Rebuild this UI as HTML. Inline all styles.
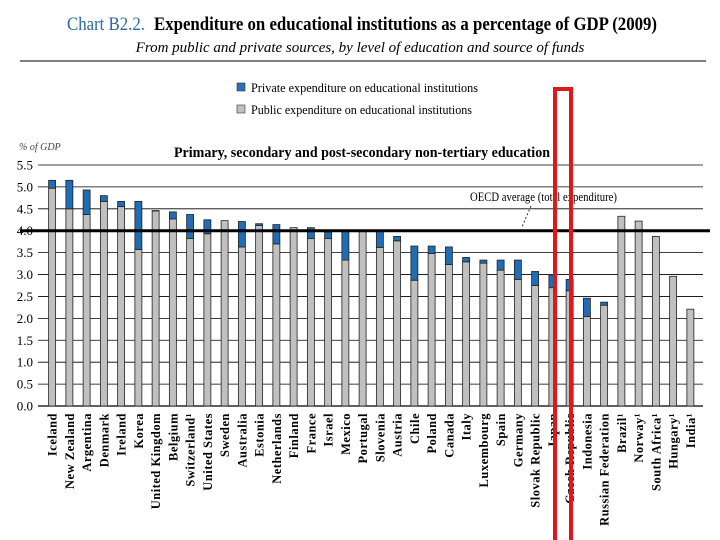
<!DOCTYPE html>
<html><head><meta charset="utf-8"><style>
body{margin:0;background:#fff;}
svg{display:block;font-family:"Liberation Serif",serif;}
</style></head><body>
<svg id="chart" width="720" height="540" viewBox="0 0 720 540" xmlns="http://www.w3.org/2000/svg">
<text x="67" y="30" font-size="19" fill="#2a6aa0" textLength="78" lengthAdjust="spacingAndGlyphs">Chart B2.2.</text>
<text x="154" y="30" font-size="19" font-weight="bold" textLength="503" lengthAdjust="spacingAndGlyphs">Expenditure on educational institutions as a percentage of GDP (2009)</text>
<text x="360" y="52" text-anchor="middle" font-size="15" font-style="italic">From public and private sources, by level of education and source of funds</text>
<line x1="20" y1="61" x2="706" y2="61" stroke="#000" stroke-width="1"/>
<rect x="237" y="83" width="8" height="8" fill="#2a72b8" stroke="#333" stroke-width="0.6"/>
<text x="251" y="92" font-size="12.5" textLength="227" lengthAdjust="spacingAndGlyphs">Private expenditure on educational institutions</text>
<rect x="237" y="105" width="8" height="8" fill="#c0c0c0" stroke="#333" stroke-width="0.6"/>
<text x="251" y="114" font-size="12.5" textLength="221" lengthAdjust="spacingAndGlyphs">Public expenditure on educational institutions</text>
<text x="19" y="150" font-size="10" font-style="italic" fill="#444">% of GDP</text>
<text x="174" y="157" font-size="14.5" font-weight="bold" textLength="376" lengthAdjust="spacingAndGlyphs">Primary, secondary and post-secondary non-tertiary education</text>
<g id="grid"></g>
<g id="bars"></g>
<g id="labels"></g>
<line id="avg" x1="20" x2="710" stroke="#000" stroke-width="3"/>
<text x="470" y="201" font-size="12.5" textLength="147" lengthAdjust="spacingAndGlyphs">OECD average (total expenditure)</text>
<line x1="531" y1="206" x2="522" y2="227" stroke="#000" stroke-width="0.8" stroke-dasharray="2,2"/>
<rect x="555" y="89" width="16" height="460" fill="none" stroke="#e0181c" stroke-width="4"/>
</svg>
<script>
const countries=["Iceland","New Zealand","Argentina","Denmark","Ireland","Korea","United Kingdom","Belgium","Switzerland¹","United States","Sweden","Australia","Estonia","Netherlands","Finland","France","Israel","Mexico","Portugal","Slovenia","Austria","Chile","Poland","Canada","Italy","Luxembourg","Spain","Germany","Slovak Republic","Japan","Czech Republic","Indonesia","Russian Federation","Brazil¹","Norway¹","South Africa¹","Hungary¹","India¹"];
const publicVals=[4.97,4.5,4.37,4.67,4.55,3.57,4.45,4.27,3.82,3.93,4.23,3.63,4.12,3.7,4.07,3.82,3.82,3.33,4.0,3.62,3.77,2.87,3.48,3.23,3.29,3.26,3.10,2.89,2.75,2.70,2.63,2.04,2.30,4.33,4.22,3.87,2.96,2.21];
const totalVals=[5.15,5.15,4.93,4.8,4.67,4.67,4.46,4.43,4.37,4.25,4.23,4.21,4.16,4.14,4.07,4.07,3.97,3.99,4.0,3.98,3.87,3.65,3.65,3.63,3.39,3.33,3.33,3.33,3.07,2.99,2.89,2.46,2.37,4.33,4.22,3.87,2.96,2.21];
const yTicks=[0,0.5,1,1.5,2,2.5,3,3.5,4,4.5,5,5.5];
const oecdAvg=4.0;
const NS="http://www.w3.org/2000/svg";
const y0=406,y1=165,yMax=5.5,x0=43.5,step=17.25;
function y(v){return y0-(v/yMax)*(y0-y1);}
function x(i){return x0+(i+0.5)*step;}
const grid=document.getElementById('grid');
yTicks.forEach(t=>{
 const l=document.createElementNS(NS,'line');
 
 
 l.setAttribute('x1',38);l.setAttribute('x2',703);l.setAttribute('y1',y(t));l.setAttribute('y2',y(t));
 l.setAttribute('stroke','#000');l.setAttribute('stroke-width',t===0?1.2:0.8);
 grid.appendChild(l);
 const tx=document.createElementNS(NS,'text');
 
 
 tx.setAttribute('x',33);tx.setAttribute('y',y(t)+4.5);tx.setAttribute('text-anchor','end');tx.setAttribute('font-size','13');
 tx.textContent=t.toFixed(1);grid.appendChild(tx);
});
const bars=document.getElementById('bars'),labels=document.getElementById('labels');
countries.forEach((c,i)=>{
 const cx=x(i),w=7;
 const p=document.createElementNS(NS,'rect');
 
 
 p.setAttribute('x',cx-w/2);p.setAttribute('y',y(publicVals[i]));p.setAttribute('width',w);p.setAttribute('height',y0-y(publicVals[i]));
 p.setAttribute('fill','#c0c0c0');p.setAttribute('stroke','#222');p.setAttribute('stroke-width','0.8');
 bars.appendChild(p);
 if(totalVals[i]>publicVals[i]+0.005){
  const q=document.createElementNS(NS,'rect');
  
  
  q.setAttribute('x',cx-w/2);q.setAttribute('y',y(totalVals[i]));q.setAttribute('width',w);q.setAttribute('height',y(publicVals[i])-y(totalVals[i]));
  q.setAttribute('fill','#1f6db3');q.setAttribute('stroke','#222');q.setAttribute('stroke-width','0.8');
  bars.appendChild(q);
 }
 const t=document.createElementNS(NS,'text');
 
 
 t.setAttribute('transform','translate('+(cx+4.5)+',413) rotate(-90)');
 t.setAttribute('text-anchor','end');t.setAttribute('font-size','12.5');t.setAttribute('font-weight','bold');t.setAttribute('letter-spacing','0.5');
 t.textContent=c;labels.appendChild(t);
});
const a=document.getElementById('avg');a.setAttribute('y1',y(oecdAvg));a.setAttribute('y2',y(oecdAvg));
</script>
</body></html>
